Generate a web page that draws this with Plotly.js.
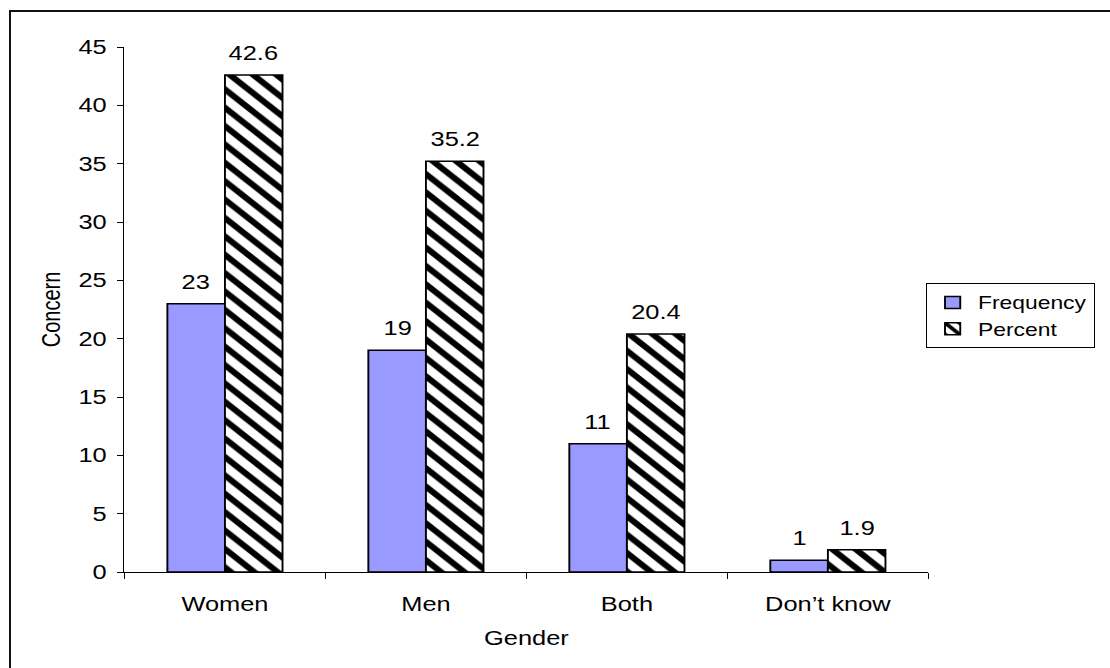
<!DOCTYPE html>
<html>
<head>
<meta charset="utf-8">
<script src="https://cdn.plot.ly/plotly-3.0.1.min.js"></script>
<style>
  html, body { margin: 0; padding: 0; background: #ffffff; overflow: hidden; }
  #wrap { position: absolute; left: 0; top: 0; width: 1110px; height: 668px; overflow: hidden; background: #fff; }
  #chart { position: absolute; left: 0; top: 0; width: 874px; height: 668px; transform: scaleX(1.27); transform-origin: 0 0; }
  #frame { position: absolute; left: 9px; top: 10px; width: 1200px; height: 800px;
           border-left: 2px solid #111; border-top: 2px solid #111; pointer-events: none; }
</style>
</head>
<body>
<div id="wrap">
  <div id="chart"></div>
  <div id="frame"></div>
</div>
<script>
const categories = ["Women", "Men", "Both", "Don\u2019t know"];
const frequency = [23, 19, 11, 1];
const percent = [42.6, 35.2, 20.4, 1.9];
const seriesNames = ["Frequency", "Percent"];
const yAxisTitle = "Concern";
const xAxisTitle = "Gender";

const FONT = "Liberation Sans, Arial, sans-serif";
const BARGAP = 0.427;

const traces = [
  {
    type: "bar",
    name: seriesNames[0],
    x: categories,
    y: frequency,
    marker: { color: "#9999FF", line: { color: "#000", width: 1.5 } }
  },
  {
    type: "bar",
    name: seriesNames[1],
    x: categories,
    y: percent,
    marker: {
      color: "#ffffff",
      line: { color: "#000", width: 1.5 },
      pattern: { shape: "\\", fgcolor: "#000", bgcolor: "#ffffff", size: 13, solidity: 0.42, fillmode: "replace" }
    }
  }
];

// value labels placed above each bar (bar centre derived from the group layout)
const half = (1 - BARGAP) / 4;
const annotations = [];
[[frequency, -half, v => String(v)], [percent, half, v => v.toFixed(1)]].forEach(([vals, off, fmt]) => {
  vals.forEach((v, i) => {
    annotations.push({
      xref: "x", yref: "y", x: i + off, y: v,
      text: fmt(v), showarrow: false, yanchor: "bottom", yshift: 9,
      font: { family: FONT, size: 20, color: "#000" }
    });
  });
});

const layout = {
  width: 874,
  height: 668,
  margin: { l: 98, r: 143, t: 47, b: 96, autoexpand: false },
  paper_bgcolor: "rgba(0,0,0,0)",
  plot_bgcolor: "#ffffff",
  font: { family: FONT, size: 20, color: "#000" },
  barmode: "group",
  bargap: BARGAP,
  bargroupgap: 0,
  showlegend: true,
  annotations: annotations,
  legend: {
    x: 0.997, y: 0.55, xanchor: "left", yanchor: "top",
    bordercolor: "#000", borderwidth: 1, bgcolor: "#fff",
    font: { family: FONT, size: 18, color: "#000" },
    itemwidth: 30, tracegroupgap: 0
  },
  xaxis: {
    type: "category",
    showline: true, linecolor: "#000", linewidth: 1,
    ticks: "outside", ticklen: 6, tickcolor: "#000", tickwidth: 1,
    tickson: "boundaries",
    ticklabelstandoff: 14,
    showgrid: false, zeroline: false,
    tickfont: { family: FONT, size: 20, color: "#000" },
    title: { text: xAxisTitle, font: { family: FONT, size: 20, color: "#000" }, standoff: 17 }
  },
  yaxis: {
    range: [0, 45], dtick: 5, tick0: 0,
    showline: true, linecolor: "#000", linewidth: 1,
    ticks: "outside", ticklen: 5, tickcolor: "#000", tickwidth: 1,
    ticklabelstandoff: 4,
    showgrid: false, zeroline: false,
    tickfont: { family: FONT, size: 20, color: "#000" },
    title: { text: yAxisTitle, font: { family: FONT, size: 20, color: "#000" }, standoff: 8 }
  }
};

Plotly.newPlot("chart", traces, layout, { displayModeBar: false, staticPlot: true });
</script>
</body>
</html>
